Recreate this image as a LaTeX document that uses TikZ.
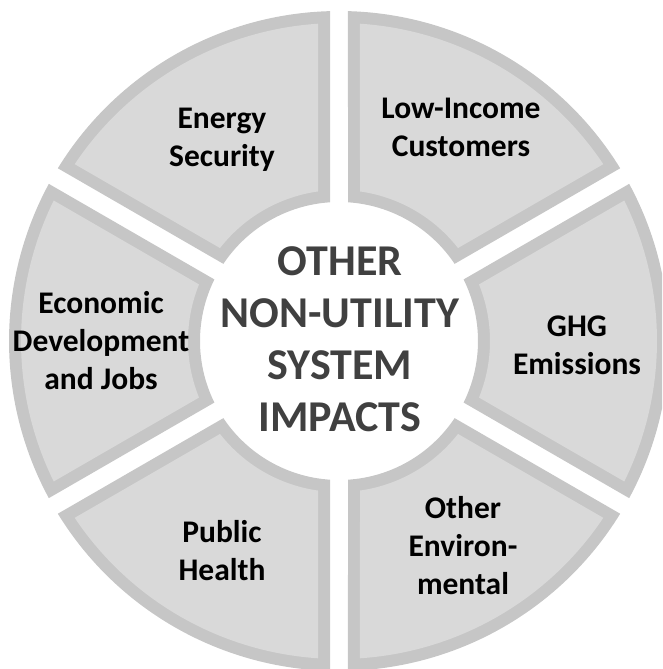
\documentclass[tikz,border=0pt]{standalone}
\usepackage{fontspec}
\setmainfont{Carlito}
\definecolor{segfill}{HTML}{D9D9D9}
\definecolor{segborder}{HTML}{C6C6C6}
\definecolor{centertext}{HTML}{404040}
\newcommand\ringseg[6]{%
  \pgfmathsetmacro\sA{#1+asin(#3/#4)}%
  \pgfmathsetmacro\sB{#2-asin(#3/#4)}%
  \pgfmathsetmacro\sC{#2-asin(#3/#5)}%
  \pgfmathsetmacro\sD{#1+asin(#3/#5)}%
  \fill[#6] (\sA:#4pt) arc[start angle=\sA, end angle=\sB, radius=#4pt]
    -- (\sC:#5pt) arc[start angle=\sC, end angle=\sD, radius=#5pt] -- cycle;
}
\tikzset{
  seglabel/.style={font=\bfseries\fontsize{31.5}{38}\selectfont, align=center, text=black, inner sep=0pt},
  centerlabel/.style={font=\bfseries\fontsize{44}{52}\selectfont, align=center, text=centertext, inner sep=0pt}
}
\begin{document}
\begin{tikzpicture}[x=1pt,y=1pt]
\useasboundingbox (0,0) rectangle (662,669);
\clip (0,0) rectangle (662,669);
\begin{scope}[shift={(339,328)}]
  \foreach \a/\b in {-30/30, 30/90, 90/150, 150/210, 210/270, 270/330}{
    \ringseg{\a}{\b}{9}{330}{139}{segborder}
    \ringseg{\a}{\b}{21}{318}{151}{segfill}
  }
\end{scope}
\node[seglabel] (energy) at (222,529) {Energy\\Security};
\node[seglabel] (lowinc) at (461,542) {Low-Income\\Customers};
\node[seglabel] (ghg) at (577,324) {GHG\\Emissions};
\node[seglabel] (otherenv) at (463,123) {Other\\Environ-\\mental};
\node[seglabel] (health) at (222,118) {Public\\Health};
\node[seglabel] (econ) at (101,328) {Economic\\Development\\and Jobs};
\node[centerlabel] (center) at (340,330) {OTHER\\NON-UTILITY\\SYSTEM\\IMPACTS};
\end{tikzpicture}
\end{document}
